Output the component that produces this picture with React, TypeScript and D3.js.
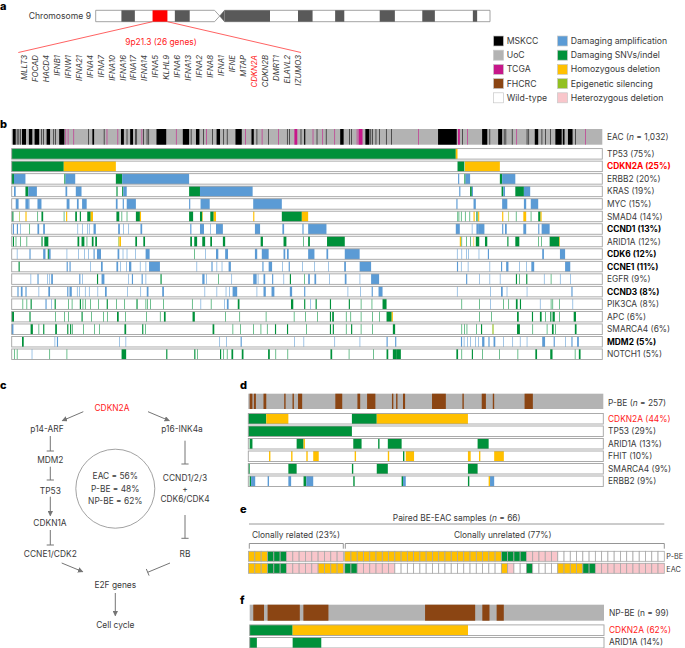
import React from "react";
import * as d3 from "d3";

type Seg = [number, number, string];
const FONT = "Inter, 'Noto Sans', sans-serif";
const COLORS: Record<string, string> = {
  a: "#5b9bd5", s: "#00913a", h: "#ffc000", e: "#92c020", n: "#f9c6cb", w: "#ffffff",
  k: "#000000", g: "#b3b3b3", m: "#c7178a", b: "#8b4513",
};

// ---- panel a
const chromBands: [number, number, string][] = [
  [0, 9, "w"], [9, 13.7, "d"], [13.7, 19.9, "w"], [19.9, 25.1, "r"], [25.1, 27.7, "w"], [27.7, 32.9, "d"],
  [32.9, 41.6, "w"], [45.1, 61, "d"], [61, 70.8, "w"], [70.8, 75.9, "d"], [75.9, 83.8, "w"], [83.8, 87, "d"],
  [87, 99.4, "w"], [99.4, 104.7, "d"], [104.7, 114.3, "w"], [114.3, 118.7, "d"], [118.7, 132, "w"], [132, 133.5, "d"], [133.5, 138, "w"],
];
const chromGenes = ["MLLT3","FOCAD","HACD4","IFNB1","IFNW1","IFNA21","IFNA4","IFNA7","IFNA10","IFNA16","IFNA17","IFNA14","IFNA5","KLHL9","IFNA6","IFNA13","IFNA2","IFNA8","IFNA1","IFNE","MTAP","CDKN2A","CDKN2B","DMRT1","ELAVL2","IZUMO3"];

// ---- legend
const legendLeft: [string, string][] = [["k","MSKCC"],["g","UoC"],["m","TCGA"],["b","FHCRC"],["w","Wild-type"]];
const legendRight: [string, string][] = [["a","Damaging amplification"],["s","Damaging SNVs/indel"],["h","Homozygous deletion"],["e","Epigenetic silencing"],["n","Heterozygous deletion"]];

// ---- panel b (sample rank 0..1032)
const eacSource: Seg[] = [
  [2,5,"k"],[9,1,"k"],[12,1,"k"],[15,1,"k"],[18,7,"k"],[30,6,"k"],[40,8,"k"],[52,1,"k"],[55,1,"k"],[61,6,"k"],[73,1,"k"],[76,1,"k"],[83,9,"k"],
  [94,1,"m"],[98,1,"m"],[108,1,"m"],[134,1,"k"],[141,3,"k"],[161,1,"k"],[166,1,"m"],[185,1,"m"],[191,5,"k"],[201,1,"k"],[207,5,"k"],[216,1,"k"],[218,1,"k"],
  [227,1,"m"],[230,1,"k"],[236,1,"k"],[239,1,"k"],[253,17,"k"],[287,1,"m"],[299,11,"k"],[313,1,"k"],[322,6,"k"],[335,1,"k"],[340,1,"m"],[350,1,"k"],[358,6,"k"],[370,1,"k"],[376,1,"k"],
  [391,11,"k"],[408,1,"m"],[419,4,"k"],[428,1,"k"],[437,1,"m"],[448,1,"k"],[466,1,"m"],[481,1,"k"],[485,1,"k"],[494,5,"m"],[505,1,"k"],[511,2,"k"],[526,1,"m"],[533,1,"k"],[543,1,"m"],[549,1,"k"],[564,1,"m"],
  [574,6,"k"],[590,1,"k"],[593,1,"k"],[603,1,"m"],[606,7,"m"],[618,7,"k"],[627,1,"k"],[630,1,"k"],[636,1,"k"],[642,1,"k"],[654,1,"k"],[663,1,"k"],[710,1,"m"],
  [745,32,"k"],[777,1,"k"],[780,3,"m"],[787,1,"k"],[796,1,"m"],[822,9,"k"],[835,1,"k"],[850,7,"k"],[860,1,"k"],[863,1,"k"],[874,1,"k"],[882,1,"m"],[900,1,"k"],[903,1,"k"],[914,6,"k"],[926,1,"k"],[932,1,"k"],[941,1,"k"],[950,11,"k"],[963,3,"k"],[972,8,"k"],[985,1,"k"],[1002,1,"m"],
];
const TP53: Seg[] = [[0,776,"s"],[776,3,"h"]];
const CDKN2A: Seg[] = [[0,91,"s"],[91,91,"h"],[779,12,"s"],[792,61,"h"]];
const ERBB2: Seg[] = [[0,4,"s"],[4,20,"a"],[92,2,"s"],[94,17,"a"],[182,11,"s"],[193,117,"a"],[780,2,"a"],[791,2,"s"],[793,8,"a"],[853,4,"s"],[857,23,"a"]];
const KRAS: Seg[] = [[4,3,"a"],[24,5,"s"],[29,15,"a"],[94,3,"a"],[112,10,"a"],[183,2,"s"],[193,2,"s"],[195,6,"a"],[310,19,"s"],[329,92,"a"],[782,2,"a"],[801,3,"s"],[804,2,"a"],[856,3,"s"],[859,3,"a"],[880,15,"s"],[895,11,"a"]];
const MYC: Seg[] = [[7,5,"a"],[24,5,"a"],[29,2,"a"],[45,7,"a"],[96,5,"a"],[114,3,"a"],[123,8,"a"],[182,3,"a"],[194,2,"a"],[201,16,"a"],[310,2,"a"],[330,16,"a"],[422,50,"a"],[777,2,"a"],[807,4,"a"],[857,9,"a"],[895,4,"a"],[907,13,"a"]];
const SMAD4: Seg[] = [[1,2,"s"],[13,1,"e"],[24,2,"h"],[45,1,"s"],[52,3,"s"],[91,1,"s"],[95,2,"h"],[111,3,"s"],[119,2,"s"],[132,6,"s"],[138,4,"h"],[183,5,"s"],[192,1,"s"],[201,1,"s"],[217,7,"s"],[224,2,"h"],[310,7,"s"],[329,4,"s"],[333,1,"h"],[347,6,"s"],[353,4,"h"],[422,2,"h"],[472,35,"s"],[507,11,"h"],[779,1,"s"],[781,1,"s"],[785,1,"s"],[792,1,"s"],[800,1,"s"],[807,2,"h"],[812,2,"s"],[815,2,"h"],[857,2,"h"],[868,1,"e"],[881,1,"s"],[894,5,"h"],[907,1,"s"],[920,4,"s"],[924,2,"h"]];
const CCND1: Seg[] = [[2,2,"a"],[9,2,"a"],[15,1,"a"],[31,1,"s"],[45,3,"a"],[55,3,"a"],[115,1,"a"],[123,1,"a"],[132,1,"a"],[135,1,"a"],[143,4,"a"],[186,3,"a"],[195,1,"a"],[204,1,"a"],[225,3,"a"],[312,2,"a"],[329,7,"a"],[347,1,"a"],[357,12,"a"],[425,9,"a"],[473,3,"a"],[508,2,"a"],[518,32,"a"],[776,7,"a"],[804,1,"a"],[812,3,"a"],[815,11,"a"],[857,2,"a"],[862,3,"a"],[894,5,"a"],[920,2,"a"],[926,14,"a"]];
const ARID1A: Seg[] = [[2,2,"s"],[7,1,"s"],[15,1,"s"],[26,1,"s"],[52,2,"s"],[57,7,"s"],[115,3,"s"],[122,5,"s"],[131,1,"s"],[140,3,"s"],[146,3,"s"],[186,1,"e"],[188,3,"h"],[216,3,"s"],[230,3,"s"],[312,3,"s"],[319,5,"s"],[333,5,"s"],[347,3,"s"],[369,4,"s"],[435,4,"s"],[475,5,"s"],[509,1,"s"],[518,3,"s"],[551,31,"s"],[783,2,"h"],[786,1,"s"],[794,1,"s"],[801,1,"s"],[807,1,"h"],[811,6,"s"],[827,4,"s"],[866,2,"s"],[880,7,"s"],[920,1,"s"],[925,1,"s"],[940,17,"s"],[957,1,"h"]];
const CDK6: Seg[] = [[9,1,"a"],[31,2,"a"],[55,4,"a"],[63,2,"s"],[65,3,"a"],[96,1,"a"],[116,1,"a"],[127,1,"a"],[134,1,"a"],[143,2,"a"],[149,7,"a"],[185,3,"a"],[194,1,"a"],[201,1,"a"],[216,1,"a"],[234,7,"a"],[319,1,"s"],[338,1,"a"],[357,4,"a"],[373,5,"a"],[425,4,"a"],[437,12,"a"],[475,3,"a"],[481,3,"a"],[518,11,"a"],[550,3,"a"],[582,26,"a"],[778,1,"a"],[786,1,"a"],[794,1,"a"],[798,1,"a"],[816,1,"a"],[832,2,"a"],[927,3,"a"],[958,9,"a"]];
const CCNE1: Seg[] = [[12,2,"s"],[96,2,"a"],[101,2,"a"],[137,1,"a"],[156,3,"a"],[183,3,"a"],[190,1,"a"],[200,1,"a"],[205,4,"a"],[224,1,"a"],[234,1,"a"],[240,19,"a"],[323,1,"a"],[349,2,"a"],[358,1,"a"],[367,1,"a"],[379,4,"a"],[438,2,"a"],[449,6,"a"],[473,1,"a"],[484,2,"a"],[508,1,"a"],[529,1,"a"],[553,1,"a"],[581,3,"a"],[608,20,"a"],[778,2,"a"],[785,1,"a"],[797,1,"a"],[835,1,"a"],[855,2,"a"],[864,4,"a"],[887,1,"a"],[899,1,"a"],[908,5,"a"],[967,9,"a"]];
const EGFR: Seg[] = [[33,1,"a"],[45,2,"a"],[62,1,"a"],[66,1,"a"],[69,3,"a"],[118,2,"a"],[123,1,"a"],[149,2,"s"],[157,5,"a"],[204,1,"a"],[210,2,"a"],[227,2,"a"],[234,1,"a"],[260,2,"s"],[333,4,"a"],[340,1,"a"],[361,1,"s"],[384,1,"a"],[422,6,"a"],[430,1,"a"],[440,3,"a"],[455,2,"a"],[475,1,"a"],[486,2,"s"],[511,1,"s"],[518,3,"a"],[529,3,"a"],[555,1,"a"],[582,3,"a"],[608,1,"a"],[628,14,"a"],[794,2,"a"],[817,1,"a"],[835,1,"a"],[853,1,"a"],[881,2,"s"],[887,1,"s"],[899,2,"s"],[930,1,"a"],[942,1,"s"],[958,1,"a"],[976,1,"a"]];
const CCND3: Seg[] = [[10,2,"a"],[16,3,"a"],[24,2,"a"],[47,1,"a"],[64,3,"a"],[97,2,"a"],[101,4,"a"],[114,1,"a"],[118,1,"a"],[128,1,"a"],[135,1,"a"],[150,1,"a"],[163,3,"a"],[202,1,"a"],[225,1,"a"],[236,3,"a"],[263,3,"a"],[337,1,"a"],[358,1,"a"],[374,1,"a"],[380,1,"a"],[386,8,"a"],[428,1,"a"],[440,4,"a"],[454,5,"a"],[486,4,"a"],[511,2,"a"],[587,1,"a"],[609,1,"a"],[629,2,"a"],[641,7,"a"],[778,1,"a"],[836,1,"a"],[855,3,"a"],[865,1,"a"],[900,1,"a"],[978,2,"a"]];
const PIK3CA: Seg[] = [[19,1,"s"],[26,1,"s"],[33,2,"s"],[59,2,"a"],[69,1,"a"],[75,2,"s"],[99,1,"s"],[105,1,"s"],[119,2,"s"],[124,1,"s"],[128,1,"s"],[137,1,"s"],[151,1,"s"],[166,2,"s"],[183,1,"s"],[197,1,"s"],[218,2,"s"],[234,1,"s"],[237,1,"s"],[242,1,"s"],[265,1,"s"],[315,1,"s"],[330,1,"a"],[348,1,"s"],[371,1,"a"],[376,3,"a"],[395,3,"s"],[488,4,"s"],[511,2,"s"],[522,1,"a"],[531,2,"s"],[556,2,"s"],[589,2,"s"],[610,1,"s"],[629,1,"s"],[648,7,"s"],[786,1,"s"],[817,1,"s"],[836,1,"a"],[859,1,"s"],[868,1,"s"],[881,3,"s"],[888,2,"s"],[923,1,"a"],[942,1,"s"],[945,1,"s"],[957,1,"s"],[980,1,"a"]];
const APC: Seg[] = [[0,4,"s"],[31,2,"s"],[76,1,"s"],[92,1,"s"],[99,1,"s"],[122,2,"s"],[139,1,"s"],[160,1,"s"],[167,1,"s"],[184,3,"s"],[198,1,"s"],[235,1,"s"],[259,1,"s"],[266,3,"s"],[316,4,"s"],[373,1,"s"],[398,1,"s"],[444,1,"s"],[493,1,"s"],[513,1,"s"],[534,1,"s"],[556,2,"s"],[560,3,"s"],[584,1,"s"],[592,1,"s"],[610,1,"s"],[630,1,"s"],[642,1,"s"],[655,9,"s"],[664,2,"h"],[817,1,"s"],[838,1,"s"],[883,3,"s"],[909,2,"s"],[923,3,"s"],[932,1,"s"],[941,2,"s"],[945,4,"s"],[957,1,"s"],[982,4,"s"]];
const SMARCA4: Seg[] = [[0,3,"a"],[33,4,"s"],[47,1,"s"],[55,2,"s"],[76,3,"s"],[97,2,"s"],[102,2,"s"],[106,1,"s"],[125,1,"s"],[144,1,"s"],[153,1,"s"],[197,3,"s"],[228,2,"s"],[233,1,"s"],[351,3,"s"],[386,1,"s"],[399,1,"s"],[422,1,"s"],[435,1,"s"],[446,1,"s"],[460,2,"s"],[481,2,"s"],[515,1,"s"],[556,2,"s"],[561,2,"s"],[584,1,"s"],[593,2,"s"],[610,1,"s"],[630,1,"s"],[666,4,"s"],[786,1,"s"],[791,1,"s"],[795,1,"s"],[812,1,"s"],[820,2,"s"],[840,2,"e"],[883,5,"s"],[910,1,"s"],[935,1,"s"],[944,3,"s"],[950,1,"s"],[984,3,"s"]];
const MDM2: Seg[] = [[18,3,"s"],[75,1,"a"],[79,2,"a"],[188,1,"a"],[199,1,"a"],[363,1,"a"],[375,1,"a"],[400,2,"a"],[494,1,"a"],[510,1,"a"],[564,1,"a"],[608,1,"a"],[655,2,"a"],[670,2,"a"],[785,2,"a"],[790,1,"a"],[796,1,"a"],[801,1,"a"],[810,1,"a"],[815,1,"a"],[822,4,"a"],[833,2,"a"],[842,3,"a"],[859,1,"a"],[875,1,"a"],[888,1,"a"],[900,1,"a"],[927,5,"a"],[947,2,"a"],[967,1,"a"],[978,2,"a"],[988,3,"a"]];
const NOTCH1: Seg[] = [[4,1,"s"],[9,1,"s"],[35,1,"a"],[66,1,"s"],[96,1,"s"],[192,8,"s"],[270,2,"s"],[319,2,"s"],[324,1,"s"],[364,2,"s"],[370,1,"s"],[376,1,"s"],[384,3,"s"],[402,3,"s"],[448,3,"s"],[461,1,"s"],[482,1,"s"],[557,3,"s"],[589,1,"s"],[632,1,"s"],[655,3,"s"],[666,7,"s"],[673,7,"s"],[777,3,"s"],[786,1,"s"],[804,2,"s"],[822,1,"s"],[852,1,"s"],[884,1,"s"],[915,3,"s"],[941,4,"s"],[984,1,"s"],[991,3,"s"]];
const eacRows: [React.ReactNode, Seg[]][] = [
  ["TP53 (75%)", TP53],
  [<tspan fill="#ff0000" fontWeight={700}>CDKN2A (25%)</tspan>, CDKN2A],
  ["ERBB2 (20%)", ERBB2], ["KRAS (19%)", KRAS], ["MYC (15%)", MYC], ["SMAD4 (14%)", SMAD4],
  [<tspan fill="#000" fontWeight={700}>CCND1 (13%)</tspan>, CCND1],
  ["ARID1A (12%)", ARID1A],
  [<tspan fill="#000" fontWeight={700}>CDK6 (12%)</tspan>, CDK6],
  [<tspan fill="#000" fontWeight={700}>CCNE1 (11%)</tspan>, CCNE1],
  ["EGFR (9%)", EGFR],
  [<tspan fill="#000" fontWeight={700}>CCND3 (8%)</tspan>, CCND3],
  ["PIK3CA (8%)", PIK3CA], ["APC (6%)", APC], ["SMARCA4 (6%)", SMARCA4],
  [<tspan fill="#000" fontWeight={700}>MDM2 (5%)</tspan>, MDM2],
  ["NOTCH1 (5%)", NOTCH1],
];

// ---- panel d (sample rank 0..257)
const pbeSource: Seg[] = [[1,2,"b"],[4,1.5,"b"],[11,2,"b"],[26,1,"b"],[32,1,"b"],[36,3,"b"],[63,5,"b"],[79,2,"b"],[86,6,"b"],[104,1,"b"],[107,1,"b"],[112,1.5,"b"],[133,10,"b"],[155,1,"b"],[169,3,"b"],[177,1,"b"],[200,6,"b"]];
const PBE_CDKN2A: Seg[] = [[0,13,"s"],[13,16,"h"],[75,18,"s"],[93,66,"h"]];
const PBE_TP53: Seg[] = [[0,75,"s"]];
const PBE_ARID1A: Seg[] = [[1,2,"s"],[35,5,"s"],[40,1,"h"],[76,6,"s"],[94,1,"s"],[101,10,"s"],[166,8,"s"]];
const PBE_FHIT: Seg[] = [[15,1,"h"],[31,1,"h"],[42,1,"h"],[47,4,"h"],[77,1,"h"],[101,1,"h"],[112,1,"s"],[114,6,"h"],[159,2,"h"],[167,1,"h"],[178,7,"h"]];
const PBE_SMARCA4: Seg[] = [[0,1,"s"],[29,6,"s"],[75,1,"s"],[93,8,"s"],[159,7,"s"]];
const PBE_ERBB2: Seg[] = [[1,1,"s"],[2,3,"a"],[14,1,"a"],[29,2,"a"],[40,2,"s"],[42,5,"a"],[76,1,"s"],[111,1,"s"],[112,2,"a"],[159,1,"s"],[174,1,"h"],[175,3,"a"]];
const pbeRows: [React.ReactNode, Seg[]][] = [
  [<tspan fill="#ff2020">CDKN2A (44%)</tspan>, PBE_CDKN2A], ["TP53 (29%)", PBE_TP53], ["ARID1A (13%)", PBE_ARID1A],
  ["FHIT (10%)", PBE_FHIT], ["SMARCA4 (9%)", PBE_SMARCA4], ["ERBB2 (9%)", PBE_ERBB2],
];

// ---- panel e: runs of [count, state] over the 66 pairs
const relatedPBE: [number, string][] = [[3,"h"],[3,"s"],[9,"n"]];
const relatedEAC: [number, string][] = [[3,"h"],[3,"s"],[5,"n"],[4,"h"]];
const unrelatedPBE: [number, string][] = [[25,"h"],[4,"s"],[5,"n"],[17,"w"]];
const unrelatedEAC: [number, string][] = [[2,"s"],[6,"n"],[17,"w"],[1,"h"],[1,"n"],[2,"w"],[1,"s"],[4,"w"],[4,"h"],[2,"s"],[11,"n"]];

// ---- panel f (sample rank 0..99)
const npbeSource: Seg[] = [[1,3,"b"],[5,9,"b"],[15,7,"b"],[49,14,"b"],[65,2,"b"],[69,2,"b"]];
const NPBE_CDKN2A: Seg[] = [[0,12,"s"],[12,49,"h"]];
const NPBE_ARID1A: Seg[] = [[0,2,"s"],[12,8,"s"]];

// ---- panel c
const pathwayLabels: [string, number, number, string?][] = [
  ["CDKN2A",112,408.3,"#ff2020"],["p14-ARF",47,428.7],["p16-INK4a",182,428.7],["MDM2",50.3,460],["TP53",50.3,491.3],["CDKN1A",50,523],
  ["CCNE1/CDK2",50.3,554.3],["E2F genes",115.3,585.3],["Cell cycle",115.3,624.7],["RB",185,554.3],["CCND1/2/3",185,478.3],["+",185,488.7],["CDK6/CDK4",185,499],
  ["EAC = 56%",115.3,475.7],["P-BE = 48%",115.3,488.7],["NP-BE = 62%",115.3,501.3],
];
const pathwayLinks: [number, number, number, number, "arrow" | "bar"][] = [
  [83.3,411.7,62.3,420.7,"arrow"],[148,411.7,169.3,420.7,"arrow"],[50.3,436,50.3,451,"bar"],[50.3,466.7,50.3,480,"bar"],[50.3,496.7,50.3,515.7,"arrow"],[50.3,530,50.3,545,"bar"],
  [185,440.7,185,464,"bar"],[185,515,185,538.3,"bar"],[61.7,563,82.7,571.7,"arrow"],[170,563,147.7,572.3,"bar"],[115.3,593,115.3,615.7,"arrow"],
];

function Segs({ data, x, y, h }: { data: Seg[]; x: d3.ScaleLinear<number, number>; y: number; h: number }) {
  return <>{data.map((d, i) => <rect key={i} x={x(d[0])} y={y} width={x(d[0] + d[1]) - x(d[0])} height={h} fill={COLORS[d[2]]} />)}</>;
}
function Row({ data, x, y, h }: { data: Seg[]; x: d3.ScaleLinear<number, number>; y: number; h: number }) {
  const [a, b] = x.range();
  return <g>
    <rect x={a} y={y} width={b - a} height={h} fill="#fff" />
    <Segs data={data} x={x} y={y} h={h} />
    <rect x={a} y={y} width={b - a} height={h} fill="none" stroke="#a3a3a3" strokeWidth={0.9} />
  </g>;
}
const Lab = ({ x, y, children, ...r }: any) => <text x={x} y={y} fontSize={8.4} fill="#3a3a3a" dominantBaseline="central" {...r}>{children}</text>;

export default function App() {
  const xB = d3.scaleLinear().domain([0, 1032]).range([11.7, 602.3]);
  const yB = d3.scaleLinear().domain([0, 16]).range([148.6, 349.0]);
  const xD = d3.scaleLinear().domain([0, 257]).range([248.3, 603.3]);
  const yD = d3.scaleLinear().domain([0, 5]).range([413.5, 476]);
  const xF = d3.scaleLinear().domain([0, 99]).range([249.7, 604]);
  const xChrom = d3.scaleLinear().domain([0, 138]).range([95.7, 490]);
  const chromT = [10.3, 21.7];
  const geneX = d3.scaleLinear().domain([0, 25]).range([24, 297.7]);
  const xRel = d3.scaleLinear().domain([0, 15]).range([248.5, 248.5 + 15 * 6.33]);
  const xUn = d3.scaleLinear().domain([0, 51]).range([344.7, 664.3]);

  const cells = (runs: [number, string][], x: d3.ScaleLinear<number, number>, y: number) => {
    let n = 0; const out: React.ReactNode[] = [];
    runs.forEach(([c, s]) => { for (let i = 0; i < c; i++) { out.push(<rect key={`${y}-${x(0)}-${n}`} x={x(n)} y={y} width={x(1) - x(0)} height={10} fill={COLORS[s]} stroke="#a8a8a8" strokeWidth={0.8} />); n++; } });
    return out;
  };
  const bracket = (a: number, b: number) => `M${a},548.7V543.5H${b}V548.7`;

  return (
    <svg width={685} height={648} style={{ position: "absolute", left: 0, top: 0, fontFamily: FONT }}>
      <defs>
        <marker id="arr" viewBox="0 0 8 8" refX={7} refY={4} markerWidth={5.5} markerHeight={5.5} markerUnits="userSpaceOnUse" orient="auto">
          <path d="M0,0L8,4L0,8Z" fill="#757575" />
        </marker>
      </defs>
      <rect width={685} height={648} fill="#fff" />
      {[["a",0,6],["b",0,124],["c",0,385],["d",240,385],["e",240,509],["f",240,600]].map(([t,x,y]) =>
        <text key={t as string} x={x as number} y={y as number} fontSize={11} fontWeight={800} fill="#000" dominantBaseline="central">{t}</text>)}

      {/* a */}
      <Lab x={91} y={16} textAnchor="end" fontSize={8.6}>Chromosome 9</Lab>
      <path d={`M${xChrom(0)},${chromT[0]}H${xChrom(41.6)}L${xChrom(43.4)},16L${xChrom(41.6)},${chromT[1]}H${xChrom(0)}Z`} fill="#fff" stroke="#8c8c8c" strokeWidth={0.8} />
      <path d={`M${xChrom(138)},${chromT[0]}H${xChrom(45.1)}L${xChrom(43.4)},16L${xChrom(45.1)},${chromT[1]}H${xChrom(138)}Z`} fill="#fff" stroke="#8c8c8c" strokeWidth={0.8} />
      {chromBands.filter(d => d[2] !== "w").map((d, i) =>
        <rect key={i} x={xChrom(d[0])} y={chromT[0]} width={xChrom(d[1]) - xChrom(d[0])} height={chromT[1] - chromT[0]} fill={d[2] === "r" ? "#ff0000" : "#595959"} />)}
      <path d={`M${xChrom(45.1)},${chromT[0]}L${xChrom(43.4)},16L${xChrom(45.1)},${chromT[1]}Z`} fill="#595959" />
      <path d={`M${xChrom(19.9)},21.7L18.3,52.5M${xChrom(25.1)},21.7L301,52.5`} stroke="#ff3a3a" strokeWidth={0.8} fill="none" />
      <text x={161} y={41.5} textAnchor="middle" dominantBaseline="central" fontSize={8.4} fill="#ff2020">9p21.3 (26 genes)</text>
      {chromGenes.map((g, i) =>
        <text key={g} transform={`translate(${geneX(i)},55) rotate(-90)`} textAnchor="end" dominantBaseline="central" fontSize={7.8} fontStyle="italic" fill={g === "CDKN2A" ? "#ff2020" : "#3a3a3a"}>{g}</text>)}

      {/* legend */}
      {legendLeft.map(([c, t], i) => <g key={t}>
        <rect x={493.5} y={36 + 14.2 * i} width={10} height={10} fill={COLORS[c]} stroke="#c8c8c8" strokeWidth={0.7} />
        <Lab x={506.7} y={41 + 14.2 * i} fontSize={8.7}>{t}</Lab></g>)}
      {legendRight.map(([c, t], i) => <g key={t}>
        <rect x={557.5} y={36 + 14.2 * i} width={10} height={10} fill={COLORS[c]} stroke="#c8c8c8" strokeWidth={0.7} />
        <Lab x={570.7} y={41 + 14.2 * i} fontSize={8.7}>{t}</Lab></g>)}

      {/* b */}
      <rect x={11.7} y={129} width={590.6} height={15.7} fill={COLORS.g} />
      <Segs data={eacSource} x={xB} y={129} h={15.7} />
      <Lab x={607} y={137}>EAC (<tspan fontStyle="italic">n</tspan> = 1,032)</Lab>
      {eacRows.map(([l, d], i) => <g key={i}>
        <Row data={d} x={xB} y={yB(i)} h={10.5} />
        <Lab x={607} y={yB(i) + 5.3}>{l}</Lab>
      </g>)}

      {/* c */}
      <circle cx={115.3} cy={488.7} r={39.5} fill="none" stroke="#8a8a8a" strokeWidth={0.8} />
      {pathwayLabels.map(([t, x, y, c], i) => <Lab key={i} x={x} y={y} textAnchor="middle" fill={c ?? "#3a3a3a"}>{t}</Lab>)}
      {pathwayLinks.map(([x1, y1, x2, y2, k], i) => {
        const a = Math.atan2(y2 - y1, x2 - x1), dx = -Math.sin(a) * 3.6, dy = Math.cos(a) * 3.6;
        return <g key={i} stroke="#757575" strokeWidth={1} fill="none">
          <line x1={x1} y1={y1} x2={x2} y2={y2} markerEnd={k === "arrow" ? "url(#arr)" : undefined} />
          {k === "bar" && <line x1={x2 - dx} y1={y2 - dy} x2={x2 + dx} y2={y2 + dy} />}
        </g>;
      })}

      {/* d */}
      <rect x={248.3} y={393.7} width={355} height={15.3} fill={COLORS.g} />
      <Segs data={pbeSource} x={xD} y={393.7} h={15.3} />
      <Lab x={608} y={402.5}>P-BE (<tspan fontStyle="italic">n</tspan> = 257)</Lab>
      {pbeRows.map(([l, d], i) => <g key={i}>
        <Row data={d} x={xD} y={yD(i)} h={10.5} />
        <Lab x={608} y={yD(i) + 5.3}>{l}</Lab>
      </g>)}

      {/* e */}
      <Lab x={456.7} y={517.7} textAnchor="middle">Paired BE-EAC samples (<tspan fontStyle="italic">n</tspan> = 66)</Lab>
      <line x1={249} x2={664.3} y1={524} y2={524} stroke="#8c8c8c" strokeWidth={0.9} />
      <Lab x={296} y={535.3} textAnchor="middle">Clonally related (23%)</Lab>
      <Lab x={502.7} y={535.3} textAnchor="middle">Clonally unrelated (77%)</Lab>
      <path d={bracket(249.3, 343.3)} fill="none" stroke="#7a7a7a" strokeWidth={0.8} />
      <path d={bracket(345.3, 664.3)} fill="none" stroke="#7a7a7a" strokeWidth={0.8} />
      {cells(relatedPBE, xRel, 551.3)}{cells(relatedEAC, xRel, 563.3)}
      {cells(unrelatedPBE, xUn, 551.3)}{cells(unrelatedEAC, xUn, 563.3)}
      <Lab x={666.3} y={556.7} fontSize={7.3}>P-BE</Lab>
      <Lab x={666.3} y={569} fontSize={7.3}>EAC</Lab>

      {/* f */}
      <rect x={249.7} y={604.7} width={354.3} height={16} fill={COLORS.g} />
      <Segs data={npbeSource} x={xF} y={604.7} h={16} />
      <Lab x={609} y={612.8}>NP-BE (n = 99)</Lab>
      <Row data={NPBE_CDKN2A} x={xF} y={624.9} h={10.6} />
      <Lab x={609} y={630.3} fill="#ff2020">CDKN2A (62%)</Lab>
      <Row data={NPBE_ARID1A} x={xF} y={637.5} h={10.5} />
      <Lab x={609} y={641.8}>ARID1A (14%)</Lab>
    </svg>
  );
}
